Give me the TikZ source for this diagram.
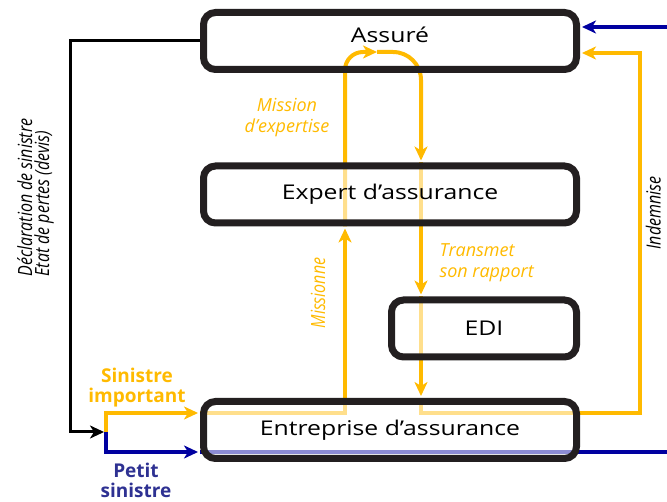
\documentclass[tikz,border=0pt]{standalone}
\usepackage{fontspec}
\usepackage{graphicx}
\setmainfont{Open Sans}
\usetikzlibrary{arrows.meta,backgrounds,positioning}
\definecolor{jaune}{RGB}{255,186,0}
\definecolor{bleu}{RGB}{0,0,160}
\definecolor{bleuclair}{RGB}{46,49,146}
\definecolor{bord}{RGB}{35,31,32}
\newcommand{\etire}[1]{\scalebox{1.22}[1]{#1}}

\begin{document}
\begin{tikzpicture}[x=1pt,y=-1pt,
    boite/.style={draw=bord,line width=7pt,rounded corners=12pt,minimum width=373pt,minimum height=57pt,
      fill=white,fill opacity=0.55,text opacity=1,font=\fontsize{20.3}{24}\selectfont},
    fj/.style={jaune,line width=4pt},
    fb/.style={bleu,line width=3.5pt},
    pointe/.style={-{Stealth[length=14pt,width=13pt,inset=4pt]},shorten >=2pt},
    lbl/.style={font=\fontsize{18}{21}\selectfont\itshape},
    vert/.style={font=\fontsize{16}{14}\selectfont\itshape,xscale=1.22,rotate=90},
    gras/.style={font=\fontsize{19}{20}\selectfont\bfseries,align=center}]
    \useasboundingbox (0,0) rectangle (667,502);
    % les acteurs
    \node[boite,fill opacity=0,label={[yshift=6pt,font=\fontsize{20.3}{24}\selectfont]center:\etire{Assuré}}] (assure) at (390,41) {};
    \node[boite] (expert) at (390,194.5) {\etire{Expert d’assurance}};
    \node[boite,minimum width=185pt] (edi) at (484,328.5) {\etire{EDI}};
    \node[boite] (entreprise) at (390,430) {\etire{Entreprise d’assurance}};
    % points de passage
    \coordinate (lx) at (345,0);
    \coordinate (rx) at (421,0);
    \coordinate (indX) at (640,0);
    \coordinate (bordD) at (667,0);
    \coordinate (coinN) at (70,0);
    \coordinate (split) at (106,432);
    \coordinate (eJ) at ([yshift=17pt]entreprise.west);
    \coordinate (eB) at ([yshift=-22pt]entreprise.west);
    \coordinate (aJ) at ([yshift=-12pt]assure.east);
    \coordinate (aB) at ([yshift=14pt]assure.east);
    \coordinate (haut) at (0,52);
    \begin{scope}[on background layer]
    \draw[line width=3pt,pointe] (assure.west) -| (coinN |- split) -- (split);
    \draw[fj,pointe] (split) |- (eJ);
    \draw[fj,pointe] (eJ) -| (lx |- expert.south);
    \draw[fj,pointe,rounded corners=18pt] (lx |- expert.south) -- (lx |- haut) -- (379,52);
    \draw[fj,pointe,rounded corners=28pt] (377,52) -- (rx |- haut) -- (rx |- expert.north);
    \draw[fj,pointe] (rx |- expert.north) -- (rx |- edi.north);
    \draw[fj,pointe] (rx |- edi.north) -- (rx |- entreprise.north);
    \draw[fj,pointe] (rx |- entreprise.north) |- (indX |- eJ) |- (aJ);
    \draw[fb,pointe] (split) |- (eB);
    \draw[fb] (eB) -- (bordD |- eB);
    \draw[fb,pointe] (bordD |- aB) -- (aB);
    \end{scope}
    % textes des fleches
    \node[lbl,jaune,align=center] (mission) at (287,118) {Mission\\d’expertise};
    \node[lbl,jaune,align=left,anchor=west] (transmet) at (436,263) {Transmet\\son rapport};
    \node[vert,jaune] (missionne) at (318,293) {Missionne};
    \node[vert,align=left,anchor=west] (declaration) at (35.5,280) {Déclaration de sinistre\\Etat de pertes (devis)};
    \node[vert,anchor=south] (indemnise) at (665,213) {Indemnise};
    \node[gras,jaune] (important) at (137,388) {Sinistre\\important};
    \node[gras,bleuclair] (petit) at (136,480) {Petit\\sinistre};
\end{tikzpicture}
\end{document}
